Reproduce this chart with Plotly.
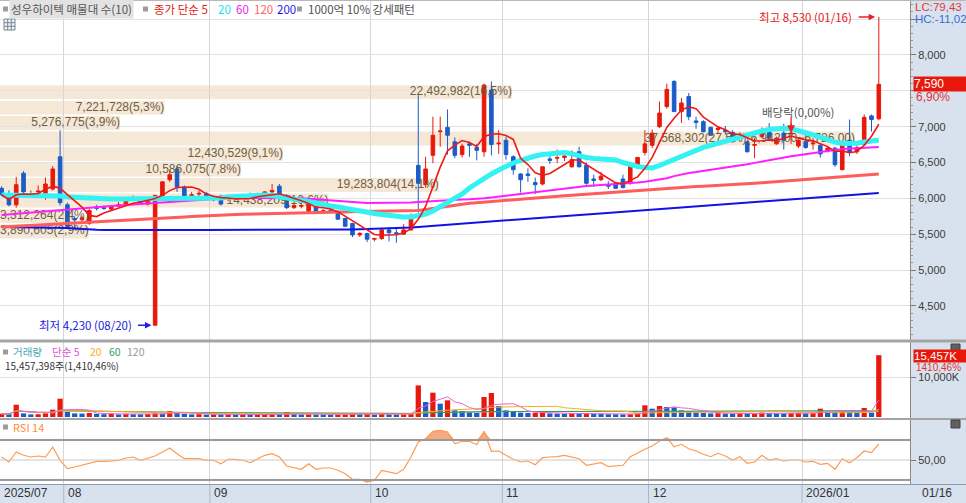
"""
성우하이텍 일봉 — 매물대(10) + 종가 단순 이동평균 + 거래량 + RSI 14
HTS 화면 재현 (2025/07/21 ~ 2026/01/16)
"""
import numpy as np
import pandas as pd
import plotly.graph_objects as go
from plotly.subplots import make_subplots

# ─── 거래일 ───
START, END = '2025-07-21', '2026-01-16'
HOLIDAYS = ['2025-08-15', '2025-10-03', '2025-10-06', '2025-10-07', '2025-10-08',
            '2025-10-09', '2025-12-25', '2025-12-31', '2026-01-01']

# ─── 일봉 (원) ───
OPEN = [
    6140, 6060, 5910, 6350, 6040, 6090, 6070, 6130, 6580, 5910,
    5720, 5700, 5650, 5880, 5870, 5850, 5890, 5920, 5990, 6000,
    5920, 4230, 6040, 6260, 6410, 6160, 6040, 6060, 6070, 5980,
    6030, 6010, 6020, 6020, 6040, 6030, 6020, 6090, 6170, 6040,
    5870, 5890, 5820, 5880, 5800, 5830, 5810, 5720, 5650, 5490,
    5510, 5430, 5440, 5560, 5520, 5500, 5560, 6460, 6190, 6600,
    6930, 6990, 6790, 6610, 6760, 6710, 6650, 7510, 6760, 6810,
    6580, 6340, 6340, 6220, 6200, 6550, 6560, 6570, 6440, 6650,
    6460, 6270, 6260, 6190, 6200, 6270, 6210, 6440, 6640, 6740,
    7000, 7280, 7630, 7210, 7420, 7080, 7070, 6990, 6960, 6950,
    6920, 6850, 6790, 6740, 6860, 6980, 6760, 6910, 6900, 6730,
    6790, 6760, 6740, 6660, 6700, 6400, 6810, 6650, 6750, 7150,
    7110]
HIGH = [
    6170, 6110, 6300, 6380, 6110, 6180, 6290, 6450, 6950, 5940,
    5750, 5760, 5850, 5910, 5900, 5880, 5950, 6010, 6040, 6020,
    6010, 6050, 6240, 6400, 6450, 6180, 6090, 6110, 6090, 6020,
    6050, 6050, 6050, 6060, 6080, 6080, 6100, 6200, 6200, 6060,
    5930, 5930, 5930, 5900, 5850, 5870, 5830, 5730, 5660, 5530,
    5520, 5450, 5570, 5590, 5600, 5640, 5790, 7440, 6580, 7140,
    7140, 7240, 6850, 6760, 6790, 6760, 7600, 7630, 6950, 6860,
    6600, 6350, 6420, 6290, 6440, 6600, 6680, 6620, 6670, 6720,
    6500, 6330, 6370, 6240, 6220, 6330, 6490, 6580, 6950, 6960,
    7350, 7600, 7650, 7400, 7470, 7140, 7090, 7000, 7000, 7010,
    6950, 6920, 6800, 6840, 6990, 7050, 6860, 7040, 7050, 6850,
    6840, 6840, 6770, 6720, 6720, 6760, 7100, 6740, 7170, 7170,
    8530]
LOW = [
    6030, 5890, 5870, 6070, 6010, 6010, 5980, 6110, 5900, 5580,
    5590, 5680, 5630, 5830, 5840, 5830, 5880, 5900, 5970, 5930,
    5900, 4230, 6020, 6230, 6090, 6010, 5990, 6030, 5990, 5960,
    5900, 5960, 5990, 5990, 6000, 6000, 6000, 6050, 6040, 5850,
    5850, 5860, 5810, 5790, 5780, 5800, 5700, 5600, 5460, 5460,
    5390, 5400, 5420, 5400, 5380, 5490, 5550, 5800, 6150, 6490,
    6720, 6610, 6560, 6570, 6580, 6530, 6580, 6600, 6620, 6540,
    6330, 6080, 6230, 6060, 6180, 6480, 6490, 6520, 6430, 6430,
    6190, 6160, 6240, 6130, 6140, 6140, 6190, 6420, 6600, 6700,
    6980, 7250, 7210, 7050, 7090, 6970, 6920, 6870, 6900, 6890,
    6780, 6830, 6640, 6560, 6850, 6830, 6750, 6680, 6760, 6700,
    6690, 6680, 6570, 6640, 6440, 6390, 6590, 6620, 6730, 6930,
    7090]
CLOSE = [
    6050, 5910, 6190, 6090, 6050, 6100, 6200, 6410, 5940, 5610,
    5700, 5730, 5830, 5860, 5860, 5880, 5910, 6010, 6000, 5940,
    6000, 6040, 6230, 6330, 6160, 6020, 6050, 6070, 6000, 6010,
    5920, 6020, 6010, 6010, 6030, 6040, 6090, 6110, 6050, 5870,
    5900, 5900, 5930, 5790, 5830, 5810, 5710, 5610, 5490, 5510,
    5430, 5440, 5560, 5520, 5510, 5560, 5740, 6210, 6410, 6880,
    6940, 6880, 6600, 6730, 6740, 6670, 7580, 6750, 6770, 6610,
    6400, 6260, 6320, 6190, 6440, 6530, 6570, 6590, 6540, 6440,
    6210, 6250, 6310, 6170, 6140, 6150, 6470, 6570, 6760, 6910,
    7190, 7520, 7210, 7330, 7140, 7060, 6930, 6880, 6980, 6930,
    6790, 6880, 6650, 6750, 6950, 6840, 6840, 6810, 6910, 6810,
    6710, 6770, 6620, 6700, 6470, 6750, 6640, 6710, 7130, 7100,
    7590]

# 거래량 (천주)
VOLUME = [
    800, 700, 3080, 900, 650, 700, 900, 1830, 4580, 1250,
    900, 850, 1000, 780, 700, 760, 650, 800, 720, 680,
    750, 900, 820, 1500, 1100, 800, 650, 700, 600, 680,
    620, 640, 580, 600, 560, 620, 700, 760, 720, 1250,
    800, 650, 700, 640, 600, 560, 620, 700, 900, 800,
    850, 600, 750, 700, 640, 700, 900, 7900, 3750, 6080,
    3330, 4170, 1670, 1500, 1170, 1000, 5000, 6000, 2750, 1670,
    1250, 1100, 1000, 1050, 1150, 900, 850, 800, 850, 780,
    900, 820, 760, 700, 680, 650, 700, 900, 2920, 2080,
    2750, 2500, 2400, 1670, 1500, 1100, 1000, 900, 950, 850,
    800, 860, 820, 880, 1100, 1000, 950, 900, 980, 1050,
    920, 960, 2080, 1300, 1250, 1400, 1300, 1200, 2250, 1096,
    15457.398]
VOL_CHANGE_PCT = 1410.46

# 이동평균 (화면에서 읽은 값, 원)
MA20 = [
    6047, 6047, 6047, 6047, 6040, 6033, 6033, 6033, 6033, 6019,
    6012, 6005, 5998, 5991, 5991, 5991, 5991, 5991, 5991, 5991,
    5991, 5991, 5991, 5991, 5991, 5998, 6005, 6005, 6005, 6005,
    6005, 6019, 6026, 6033, 6040, 6047, 6047, 6040, 6026, 6005,
    5991, 5977, 5956, 5935, 5907, 5893, 5880, 5859, 5838, 5817,
    5803, 5789, 5775, 5761, 5747, 5740, 5740, 5754, 5782, 5824,
    5880, 5935, 5991, 6061, 6145, 6214, 6284, 6340, 6396, 6451,
    6493, 6528, 6563, 6591, 6612, 6626, 6640, 6640, 6620, 6590,
    6570, 6555, 6545, 6540, 6535, 6500, 6470, 6445, 6431, 6425,
    6458, 6500, 6545, 6590, 6635, 6675, 6710, 6740, 6770, 6795,
    6820, 6850, 6880, 6910, 6940, 6960, 6975, 6978, 6970, 6950,
    6915, 6885, 6850, 6815, 6785, 6765, 6760, 6770, 6785, 6800,
    6815]
MA60 = [
    5768, 5777, 5785, 5793, 5802, 5810, 5819, 5827, 5835, 5843,
    5852, 5860, 5869, 5877, 5885, 5894, 5900, 5907, 5914, 5921,
    5928, 5935, 5942, 5949, 5956, 5963, 5971, 5980, 5988, 5996,
    6005, 6005, 6005, 6005, 6005, 6005, 6005, 6005, 6005, 6005,
    6005, 6000, 5994, 5988, 5983, 5977, 5969, 5960, 5952, 5943,
    5935, 5935, 5935, 5935, 5935, 5935, 5942, 5949, 5956, 5963,
    5970, 5974, 5978, 5983, 5987, 5991, 6002, 6013, 6025, 6036,
    6047, 6061, 6075, 6089, 6103, 6117, 6128, 6139, 6150, 6161,
    6172, 6178, 6184, 6189, 6195, 6200, 6210, 6220, 6232, 6245,
    6260, 6280, 6310, 6335, 6355, 6368, 6382, 6396, 6410, 6424,
    6437, 6456, 6475, 6495, 6515, 6535, 6552, 6569, 6586, 6602,
    6619, 6633, 6647, 6661, 6675, 6689, 6694, 6700, 6706, 6711,
    6717]
MA120 = [
    5601, 5607, 5612, 5618, 5623, 5629, 5635, 5640, 5646, 5651,
    5657, 5662, 5668, 5674, 5679, 5685, 5690, 5696, 5701, 5707,
    5713, 5718, 5724, 5729, 5735, 5741, 5746, 5752, 5757, 5763,
    5768, 5771, 5774, 5777, 5780, 5783, 5786, 5789, 5792, 5795,
    5797, 5799, 5801, 5803, 5805, 5807, 5809, 5811, 5813, 5815,
    5816, 5817, 5818, 5819, 5820, 5821, 5822, 5830, 5845, 5860,
    5875, 5890, 5905, 5918, 5931, 5939, 5948, 5956, 5964, 5972,
    5980, 5989, 5997, 6005, 6013, 6021, 6028, 6036, 6044, 6051,
    6059, 6067, 6075, 6083, 6091, 6098, 6106, 6114, 6122, 6129,
    6137, 6145, 6150, 6154, 6159, 6164, 6168, 6173, 6178, 6182,
    6187, 6195, 6202, 6210, 6218, 6225, 6233, 6241, 6248, 6256,
    6264, 6271, 6279, 6287, 6294, 6302, 6309, 6317, 6325, 6332,
    6340]
MA200 = [
    5601, 5600, 5599, 5598, 5597, 5596, 5595, 5594, 5592, 5588,
    5580, 5572, 5566, 5562, 5560, 5559, 5559, 5558, 5558, 5558,
    5558, 5557, 5557, 5557, 5557, 5557, 5557, 5557, 5558, 5558,
    5558, 5558, 5558, 5558, 5558, 5558, 5558, 5558, 5559, 5559,
    5559, 5559, 5560, 5560, 5561, 5562, 5563, 5565, 5567, 5569,
    5571, 5573, 5576, 5579, 5583, 5587, 5594, 5602, 5610, 5617,
    5625, 5632, 5640, 5647, 5655, 5662, 5670, 5677, 5685, 5692,
    5700, 5707, 5715, 5722, 5730, 5737, 5745, 5752, 5760, 5767,
    5775, 5782, 5790, 5797, 5805, 5812, 5820, 5827, 5835, 5842,
    5850, 5857, 5865, 5872, 5880, 5887, 5895, 5902, 5910, 5917,
    5925, 5932, 5940, 5947, 5955, 5962, 5970, 5977, 5985, 5992,
    6000, 6007, 6015, 6022, 6030, 6037, 6045, 6052, 6060, 6067,
    6075]

# RSI 14 (화면에서 읽은 값)
RSI14 = [
    53, 48, 58, 54.7, 53, 54, 53, 63, 49.7, 41.3,
    43, 44.7, 46.3, 48.7, 48.7, 49, 49.7, 52, 53, 49.7,
    52, 54, 58, 62, 56.3, 51.3, 51.3, 51.3, 49.7, 49.7,
    46.3, 50.7, 50.7, 49.7, 47.3, 50.7, 54.7, 56.3, 53, 44,
    42, 40.7, 46.3, 40.7, 42, 42, 39.7, 36.3, 30.7, 30.7,
    28, 29.7, 39.7, 38, 36.3, 40.7, 53, 68, 71.3, 78.7,
    79.7, 78, 66.3, 68.7, 68.7, 65.3, 78.7, 58.7, 59, 54.7,
    50.7, 48, 49, 45.3, 52.3, 53, 53.3, 54.7, 53.3, 51.3,
    44.7, 45.7, 47.3, 43.3, 44, 44.7, 53.3, 57.3, 60.7, 64,
    69, 72.3, 63.3, 65.7, 61.3, 59, 55.7, 53.3, 56.7, 54,
    50, 53.3, 46.7, 48, 54.7, 50, 51.3, 49, 50, 50,
    48, 48.7, 45.7, 46.7, 40.7, 51.3, 47.3, 52.3, 59, 57.3,
    66]

# 매물대 10구간 거래량 (아래→위)
BAND_VOL = [3890605, 3312264, 14438209, 19283804, 10586075,
            12430529, 37568302, 5276775, 7221728, 22492982]

LC, HC = 79.43, -11.02
EX_DIV_IDX, EX_DIV_PCT = 108, 0.00

# ─── 계산 ───
dates = pd.bdate_range(START, END)
dates = dates[~dates.isin(pd.to_datetime(HOLIDAYS))]
N = len(dates)
assert all(len(a) == N for a in (OPEN, HIGH, LOW, CLOSE, VOLUME, MA20, MA60, MA120, MA200, RSI14))
x = np.arange(N)

close = pd.Series(CLOSE, dtype=float)
ma5 = close.rolling(5, min_periods=1).mean()
vol = pd.Series(VOLUME, dtype=float)
vol_ma = {n: vol.rolling(n, min_periods=1).mean() for n in (5, 20, 60, 120)}
vol_col = ['#E8190C' if i == 0 or VOLUME[i] >= VOLUME[i - 1] else '#1A5CC8' for i in range(N)]

month_start = [0] + [i for i in range(1, N) if dates[i].month != dates[i - 1].month]
month_text = [d.strftime('%Y/%m') if (k == 0 or d.month == 1) else d.strftime('%m')
              for k, d in enumerate(dates[month_start])]

# ─── 화면 치수 ───
W, H = 966, 503
PW, PH = 910, 484          # 차트 영역 (px)
STEP = 7.31                # 봉 간격 (px)
XR = [-0.22, -0.22 + PW / STEP]
Y_MAIN = [4024, 8767]
FONT = 'Liberation Sans, Noto Sans CJK KR, sans-serif'
KFONT = 'Noto Sans CJK KR, Liberation Sans, sans-serif'
RED, BLUE = '#E8190C', '#1A5CC8'
TXT = '#6E5E44'


def ypap(p):
    return (PH - p) / PH


fig = make_subplots(rows=3, cols=1, shared_xaxes=True, vertical_spacing=0)

# ─── 매물대 ───
shapes, annotations = [], []
lo, hi = min(CLOSE), max(CLOSE)
bstep = (hi - lo) / len(BAND_VOL)
tot = sum(BAND_VOL)
vmax = max(BAND_VOL)
lab_x, lab_y, lab_t, lab_pos = [], [], [], []
for k, v in enumerate(BAND_VOL):
    b0 = lo + k * bstep
    b1 = b0 + bstep
    end_px = 855 * v / vmax
    x_end = XR[0] + end_px / STEP
    shapes.append(dict(type='rect', xref='x', yref='y', x0=XR[0], x1=x_end,
                       y0=b0 + bstep * 0.05, y1=b1 - bstep * 0.05,
                       fillcolor='#F6E8D6', line_width=0, layer='below'))
    pct = f"{v / tot * 100:.1f}".replace('.', ',')
    t = f"{v:,}({pct}%)"
    if v == vmax:
        t += f"({b1:,.0f},00~{b0:,.0f},00)"
    if end_px - 6.2 * len(t) < 0:
        lab_x.append(XR[0]); lab_pos.append('middle right')
    else:
        lab_x.append(x_end); lab_pos.append('middle left')
    lab_y.append((b0 + b1) / 2)
    lab_t.append(t)

fig.add_trace(go.Scatter(x=lab_x, y=lab_y, text=lab_t, mode='text', textposition=lab_pos,
                         textfont=dict(family=FONT, size=12, color=TXT),
                         hoverinfo='skip', cliponaxis=False), row=1, col=1)

# ─── 이동평균 ───
for ys, col, w in [(MA200, '#1212E8', 2), (MA120, '#FF5C5C', 3),
                   (MA60, '#FF1EFF', 2), (MA20, '#33F2F2', 5)]:
    fig.add_trace(go.Scatter(x=x, y=ys, mode='lines', line=dict(color=col, width=w),
                             hoverinfo='skip'), row=1, col=1)

fig.add_trace(go.Candlestick(
    x=x, open=OPEN, high=HIGH, low=LOW, close=CLOSE,
    increasing=dict(line=dict(color=RED, width=1), fillcolor=RED),
    decreasing=dict(line=dict(color=BLUE, width=1), fillcolor=BLUE),
    whiskerwidth=0, hoverinfo='skip'), row=1, col=1)

fig.add_trace(go.Scatter(x=x, y=ma5, mode='lines', line=dict(color='#F01818', width=1.6),
                         hoverinfo='skip'), row=1, col=1)

# ─── 거래량 ───
fig.add_trace(go.Bar(x=x, y=VOLUME, marker=dict(color=vol_col, line_width=0), width=0.72,
                     hoverinfo='skip'), row=2, col=1)
for n, col in [(120, '#A8A8A8'), (60, '#2E9E4E'), (20, '#F5B21E'), (5, '#F060D0')]:
    fig.add_trace(go.Scatter(x=x, y=vol_ma[n], mode='lines', line=dict(color=col, width=1),
                             hoverinfo='skip'), row=2, col=1)

# ─── RSI ───
rsi = np.array(RSI14, dtype=float)
for base, ys, fc in [(70, np.maximum(rsi, 70), 'rgba(240,150,95,0.8)'),
                     (30, np.minimum(rsi, 30), 'rgba(140,165,200,0.7)')]:
    fig.add_trace(go.Scatter(x=x, y=[base] * N, mode='lines', line=dict(width=0),
                             hoverinfo='skip'), row=3, col=1)
    fig.add_trace(go.Scatter(x=x, y=ys, mode='lines', line=dict(width=0), fill='tonexty',
                             fillcolor=fc, hoverinfo='skip'), row=3, col=1)
fig.add_trace(go.Scatter(x=x, y=rsi, mode='lines', line=dict(color='#FF9A50', width=1.2),
                         hoverinfo='skip'), row=3, col=1)

for lv, col, w in [(70, '#9A9A9A', 2), (50, '#C8C8C8', 1), (30, '#9A9A9A', 2)]:
    shapes.append(dict(type='line', xref='paper', yref='y3', x0=0, x1=1, y0=lv, y1=lv,
                       line=dict(color=col, width=w)))

# ─── 패널 구분선 / 아이콘 ───
XW = W / PW
for p, w, col in [(0.5, 1, '#B8B8B8'), (341, 3, '#A4A4A4'), (419, 2, '#A4A4A4'),
                  (484.5, 1, '#8C9AB0')]:
    shapes.append(dict(type='line', xref='paper', yref='paper', x0=0, x1=XW,
                       y0=ypap(p), y1=ypap(p), line=dict(color=col, width=w)))
for m in month_start[1:]:
    shapes.append(dict(type='line', xref='x', yref='paper', x0=m - 0.5, x1=m - 0.5,
                       y0=ypap(503), y1=ypap(484.5), line=dict(color='#A9B6C8', width=1)))

for sx, sy in [(3, 9), (143, 9), (297, 9), (3, 352), (3, 427)]:
    shapes.append(dict(type='rect', xref='paper', yref='paper', x0=sx / PW, x1=(sx + 5) / PW,
                       y0=ypap(sy + 2.5), y1=ypap(sy - 2.5), fillcolor='#9C9C9C', line_width=0))
for sy in [348, 424]:
    shapes.append(dict(type='rect', xref='paper', yref='paper', x0=951 / PW, x1=960 / PW,
                       y0=ypap(sy + 4), y1=ypap(sy - 4), fillcolor='#606060',
                       line=dict(color='#404040', width=1)))
# 표 아이콘
shapes.append(dict(type='rect', xref='paper', yref='paper', x0=4 / PW, x1=15 / PW,
                   y0=ypap(30), y1=ypap(19), fillcolor='#EEF1F5',
                   line=dict(color='#7A8696', width=1)))
for gx in (7.7, 11.3):
    shapes.append(dict(type='line', xref='paper', yref='paper', x0=gx / PW, x1=gx / PW,
                       y0=ypap(30), y1=ypap(19), line=dict(color='#7A8696', width=1)))
for gy in (22.7, 26.3):
    shapes.append(dict(type='line', xref='paper', yref='paper', x0=4 / PW, x1=15 / PW,
                       y0=ypap(gy), y1=ypap(gy), line=dict(color='#7A8696', width=1)))


def note(px_, py_, text, color='#333', size=11.5, anchor='left', family=KFONT, **kw):
    annotations.append(dict(x=px_ / PW, y=ypap(py_), xref='paper', yref='paper', text=text,
                            showarrow=False, xanchor=anchor, yanchor='middle',
                            font=dict(family=family, size=size, color=color), **kw))


# ─── 범례 ───
note(9, 9, '성우하이텍 매물대 수(10)', '#555', bgcolor='#E2E2E2', borderpad=1)
note(152, 9, '종가 단순 5', RED)
note(216, 9, '20', '#22E0EE')
note(234, 9, '60', '#F020F0')
note(252, 9, '120', '#FF6464')
note(275, 9, '200', '#1A1AF0')
note(306, 9, '1000억 10% 강세패턴', '#505050')

note(11, 351.5, '거래량', '#3FA9B5', 10.5)
note(50, 351.5, '단순 5', '#E050D8', 10.5)
note(88, 351.5, '20', '#F0B020', 10.5)
note(107, 351.5, '60', '#35A055', 10.5)
note(125, 351.5, '120', '#9A9A9A', 10.5)
note(3, 365, f"{VOLUME[-1] * 1000:,.0f}주({VOL_CHANGE_PCT:,.2f}%)".replace('.', ','), '#333', 10)
note(11, 427, 'RSI 14', '#FF8C40', 11)

# ─── 오른쪽 축 표시 ───
note(913, 7, f"LC:{LC:.2f}".replace('.', ','), '#E03838', 11.5, family=FONT)
note(913, 19, f"HC:{HC:.2f}".replace('.', ','), '#3A6AD8', 11.5, family=FONT)
chg = (CLOSE[-1] / CLOSE[-2] - 1) * 100
annotations.append(dict(x=1, y=CLOSE[-1], xref='paper', yref='y', text=f"{CLOSE[-1]:,}",
                        showarrow=False, xanchor='left', yanchor='middle', xshift=3,
                        bgcolor=RED, width=52, align='left', borderpad=0,
                        font=dict(family=FONT, size=12, color='white')))
annotations.append(dict(x=1, y=CLOSE[-1], xref='paper', yref='y',
                        text=f"{chg:.2f}%".replace('.', ','), showarrow=False,
                        xanchor='left', yanchor='middle', xshift=4, yshift=-13,
                        font=dict(family=FONT, size=12, color='#E03030')))
annotations.append(dict(x=1, y=VOLUME[-1], xref='paper', yref='y2',
                        text=f"{VOLUME[-1]:,.0f}K", showarrow=False, xanchor='left',
                        yanchor='middle', xshift=3, yshift=-1, bgcolor=RED, width=52,
                        align='left', borderpad=0,
                        font=dict(family=FONT, size=11.5, color='white')))
annotations.append(dict(x=1, y=VOLUME[-1], xref='paper', yref='y2',
                        text=f"{VOL_CHANGE_PCT:.2f}%".replace('.', ','), showarrow=False,
                        xanchor='left', yanchor='middle', xshift=4, yshift=-12.5,
                        font=dict(family=FONT, size=10, color='#E03030')))

# ─── 최고/최저, 배당락 ───
imax, imin = int(np.argmax(HIGH)), int(np.argmin(LOW))
for idx, price, col, txt, ax in [
        (imax, HIGH[imax], '#E82020', f"최고 {HIGH[imax]:,} ({dates[imax]:%m/%d})", -18),
        (imin, LOW[imin], '#2020E0', f"최저 {LOW[imin]:,} ({dates[imin]:%m/%d})", -15)]:
    annotations.append(dict(x=idx - 0.5, y=price, xref='x', yref='y', text='', showarrow=True,
                            ax=ax, ay=0, arrowhead=2, arrowsize=1, arrowwidth=1.3,
                            arrowcolor=col))
    annotations.append(dict(x=idx, y=price, xref='x', yref='y', text=txt, showarrow=False,
                            xanchor='right', yanchor='middle', xshift=ax - 6.5,
                            font=dict(family=KFONT, size=11.5, color=col)))
annotations.append(dict(x=EX_DIV_IDX, y=CLOSE[EX_DIV_IDX], xref='x', yref='y', text='',
                        showarrow=True, ax=0, ay=-17, arrowhead=2, arrowsize=1.2,
                        arrowwidth=1.3, arrowcolor='#E82020'))
annotations.append(dict(x=EX_DIV_IDX, y=CLOSE[EX_DIV_IDX], xref='x', yref='y',
                        text=f"배당락({EX_DIV_PCT:.2f}%)".replace('.', ','), showarrow=False,
                        xanchor='center', yanchor='middle', xshift=7, yshift=21,
                        font=dict(family=KFONT, size=11.5, color='#555')))

# ─── 날짜 축 ───
for m, t in zip(month_start, month_text):
    annotations.append(dict(x=max(m - 0.5, XR[0]), y=ypap(493), xref='x', yref='paper',
                            text=t, showarrow=False, xanchor='left', yanchor='middle',
                            xshift=2, font=dict(family=FONT, size=12, color='#333')))
note(920, 493, dates[-1].strftime('%m/%d'), '#333', 12, family=FONT)

# ─── 레이아웃 ───
xax = dict(range=XR, showgrid=True, gridcolor='#D6D6D6', gridwidth=1,
           tickvals=[m - 0.5 for m in month_start[1:]], showticklabels=False,
           zeroline=False, ticks='', rangeslider=dict(visible=False))
tick_font = dict(family=FONT, size=11, color='#3A3A3A')
main_vals = [4500, 5000, 5500, 6000, 6500, 7000, 7500, 8000, 8500]
fig.update_layout(
    width=W, height=H,
    margin=dict(l=0, r=W - PW, t=0, b=H - PH),
    paper_bgcolor='#D8E2EF', plot_bgcolor='white',
    showlegend=False, hovermode=False,
    xaxis=xax, xaxis2=xax, xaxis3=xax,
    yaxis=dict(domain=[ypap(340), 1], range=Y_MAIN, side='right', tickvals=main_vals,
               ticktext=['' if v in (7500, 8500) else f"{v:,}" for v in main_vals],
               gridcolor='#E2E2E2', zeroline=False, ticks='outside', ticklen=5,
               tickcolor='#777', showline=True, linecolor='#8A8A8A', tickfont=tick_font,
               minor=dict(ticks='outside', ticklen=2, dtick=100, tickcolor='#999',
                          showgrid=False)),
    yaxis2=dict(domain=[ypap(418), ypap(342)], range=[-250, 18750], side='right',
                tickvals=[10000], ticktext=['10,000K'], gridcolor='#E2E2E2',
                zeroline=False, ticks='outside', ticklen=5, tickcolor='#777',
                showline=True, linecolor='#8A8A8A', tickfont=tick_font),
    yaxis3=dict(domain=[0, ypap(420)], range=[26, 90], side='right', tickvals=[50],
                ticktext=['50,00'], showgrid=False, zeroline=False, ticks='outside',
                ticklen=5, tickcolor='#777', showline=True, linecolor='#8A8A8A',
                tickfont=tick_font),
    shapes=shapes, annotations=annotations,
)

# 페이지 기본 여백 제거 (창 크기 = 그림 크기), 툴바 숨김
fig.write_html("out.html", config={'displayModeBar': False},
               post_script="document.body.style.margin='0';")
